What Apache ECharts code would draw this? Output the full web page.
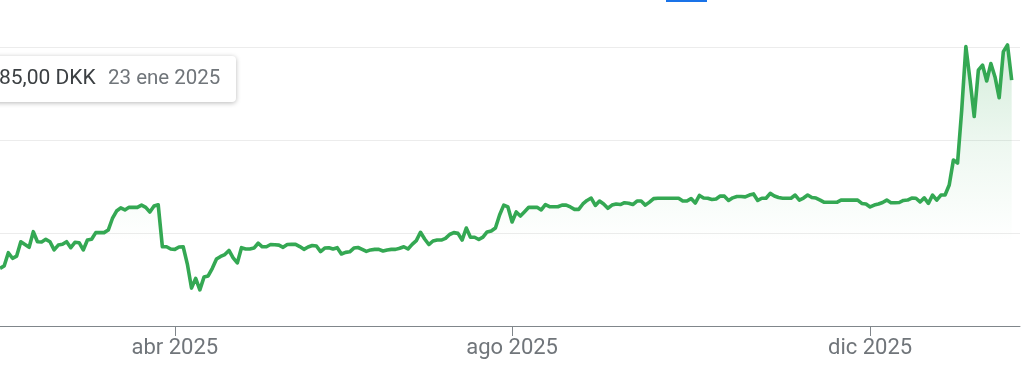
<!DOCTYPE html>
<html>
<head>
<meta charset="utf-8">
<script src="https://cdn.jsdelivr.net/npm/echarts@6/dist/echarts.min.js"></script>
<style>
html,body{margin:0;padding:0;background:#fff;}
#chart{width:1024px;height:371px;}
</style>
</head>
<body>
<div id="chart"></div>
<script>
// Trading-day index (0 = first visible day) and closing price in DKK
const prices = [
181.0,182.3,189.4,186.4,187.6,195.3,193.8,192.3,200.7,195.3,
195.2,196.6,195.3,190.9,193.5,193.9,195.3,192.1,195.0,194.8,
190.9,196.2,196.6,200.2,200.2,200.2,201.6,207.8,211.8,213.5,
212.4,213.8,213.8,213.8,215.0,213.8,211.3,214.5,215.2,192.6,
192.6,191.4,191.2,192.5,192.6,183.3,170.4,175.6,169.4,176.3,
176.9,181.0,186.0,187.4,188.4,190.6,186.6,183.9,192.1,191.4,
191.4,191.9,194.5,192.6,192.6,193.8,193.7,193.5,192.3,193.8,
193.9,193.9,192.7,191.2,192.5,193.3,193.0,190.0,191.9,192.1,
191.4,192.1,188.7,189.6,189.9,191.9,192.2,191.2,190.1,190.9,
191.2,191.2,190.3,190.9,191.2,191.2,191.8,192.6,191.4,193.9,
195.9,200.4,196.8,193.8,195.7,196.2,196.2,197.1,199.2,200.2,
199.8,196.2,202.7,197.7,197.7,196.5,197.8,200.6,201.1,202.7,
209.7,215.0,214.0,205.9,211.3,209.1,211.4,213.8,213.8,213.8,
212.4,215.3,214.2,214.1,214.1,215.0,215.0,214.0,212.7,212.7,
215.6,217.5,218.8,214.8,217.2,215.6,213.3,215.0,215.6,215.3,
216.3,216.0,215.3,217.2,217.2,215.0,216.6,218.5,218.7,218.7,
218.7,218.7,218.7,218.7,217.2,217.2,218.5,216.1,220.2,218.8,
218.7,218.0,218.3,219.9,219.8,217.5,218.9,219.6,219.6,219.4,
220.4,221.0,217.5,218.7,218.7,221.3,219.9,219.1,218.7,218.7,
218.7,220.4,217.7,218.8,220.4,219.1,218.8,217.7,216.5,216.5,
216.5,216.5,217.7,217.7,217.7,217.7,217.7,215.9,215.6,214.0,
215.0,215.6,216.4,217.7,216.3,216.3,216.4,217.5,217.7,218.8,
218.7,216.7,218.9,215.9,220.4,217.7,220.4,220.4,225.8,239.2,
237.6,266.1,300.2,282.2,262.6,287.6,290.3,281.7,291.1,283.9,
272.7,297.5,301.1,282.2
];
// Month tick labels and their trading-day index
const tickLabels = ['abr 2025', 'ago 2025', 'dic 2025'];
const tickIndex = [42, 123, 209];
// Y gridline values
const yTicks = [150, 200, 250, 300];
// Hovered tooltip text
const tipPrice = '85,00 DKK';
const tipDate = '23 ene 2025';

const seriesData = prices.map((v, i) => [i, v]);
const labelFor = {};
tickIndex.forEach((t, k) => { labelFor[t] = tickLabels[k]; });

const chart = echarts.init(document.getElementById('chart'), null, {renderer: 'canvas'});
chart.setOption({
  animation: false,
  backgroundColor: '#ffffff',
  grid: {left: 0, right: 4, top: 47, bottom: 45, containLabel: false},
  xAxis: {
    type: 'value',
    min: 0,
    max: 245,
    axisLine: {show: true, lineStyle: {color: '#80868b', width: 1}},
    axisTick: {show: true, length: 10, customValues: tickIndex, lineStyle: {color: '#80868b', width: 1}},
    axisLabel: {
      show: true,
      customValues: tickIndex,
      formatter: v => labelFor[v] || '',
      color: '#70757a',
      fontSize: 22,
      fontFamily: 'Roboto',
      margin: 11
    },
    splitLine: {show: false}
  },
  yAxis: {
    type: 'value',
    min: yTicks[0],
    max: yTicks[yTicks.length - 1],
    interval: 50,
    axisLine: {show: false},
    axisTick: {show: false},
    axisLabel: {show: false},
    splitLine: {show: true, lineStyle: {color: '#ececec', width: 1}}
  },
  series: [{
    type: 'line',
    data: seriesData,
    showSymbol: false,
    clip: false,
    lineStyle: {color: '#34a853', width: 3.6, join: 'round'},
    itemStyle: {color: '#34a853'},
    areaStyle: {
      color: new echarts.graphic.LinearGradient(0, 0, 0, 1, [
        {offset: 0, color: 'rgba(52,168,83,0.30)'},
        {offset: 0.35, color: 'rgba(52,168,83,0.12)'},
        {offset: 0.7, color: 'rgba(52,168,83,0.0)'},
        {offset: 1, color: 'rgba(52,168,83,0.0)'}
      ])
    }
  }],
  graphic: [
    {
      type: 'rect',
      shape: {x: 666, y: 0, width: 41, height: 2},
      style: {fill: '#1a73e8'}
    },
    {
      type: 'rect',
      shape: {x: -20, y: 56, width: 256, height: 46, r: 4},
      style: {fill: '#ffffff', shadowBlur: 5, shadowOffsetY: 1, shadowColor: 'rgba(0,0,0,0.28)'},
      z: 100
    },
    {
      type: 'text',
      x: -1, y: 79,
      style: {text: tipPrice, fill: '#3c4043', fontSize: 21, fontFamily: 'Roboto', verticalAlign: 'middle'},
      z: 101
    },
    {
      type: 'text',
      x: 108, y: 79,
      style: {text: tipDate, fill: '#70757a', fontSize: 20.5, fontFamily: 'Roboto', verticalAlign: 'middle'},
      z: 101
    }
  ]
});
</script>
</body>
</html>
